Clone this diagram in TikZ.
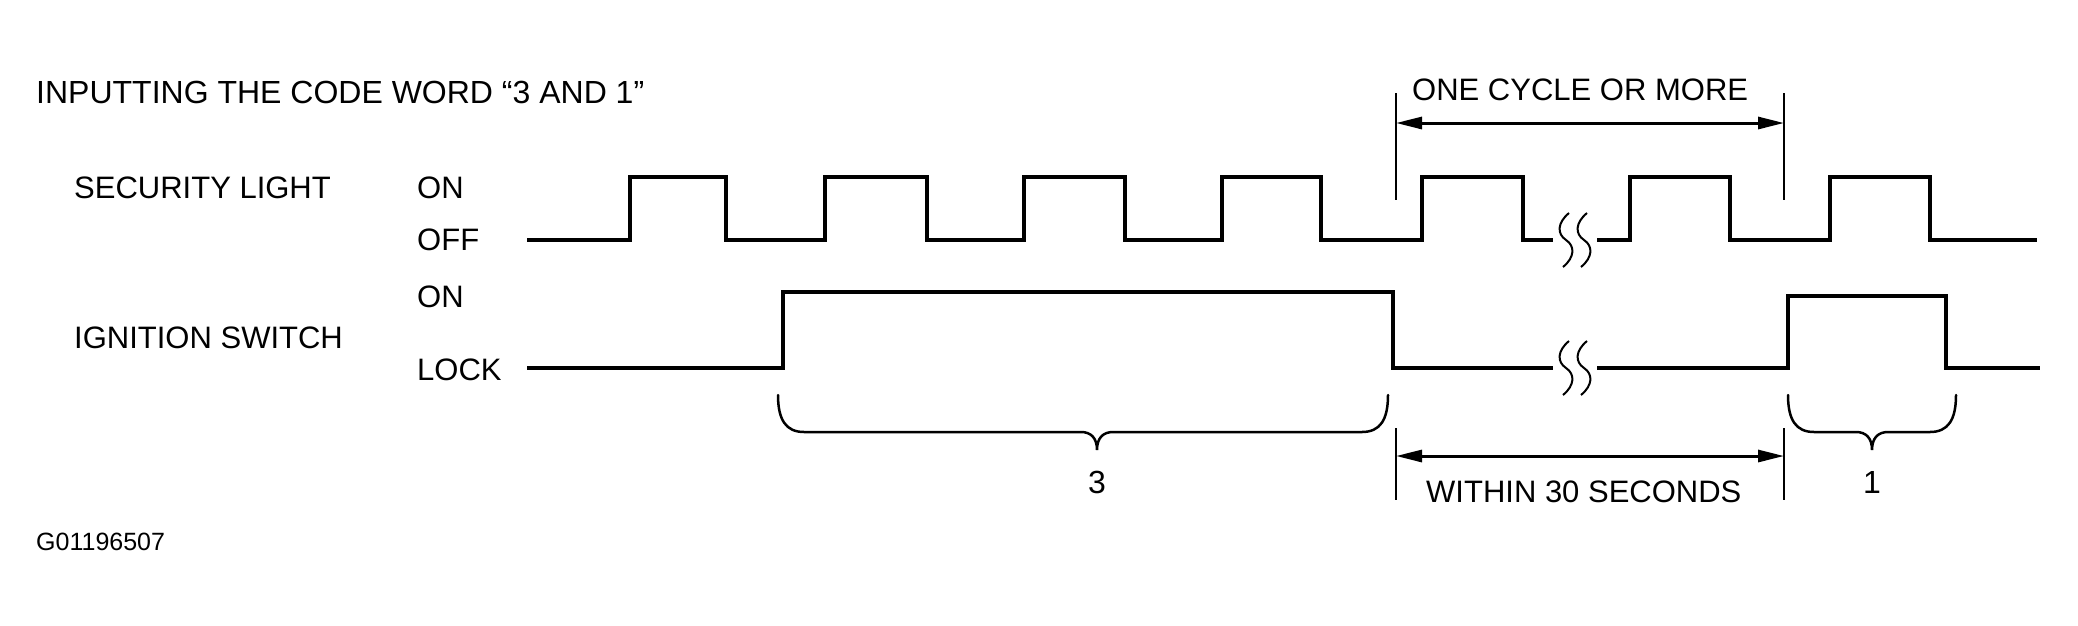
\documentclass[tikz,border=0pt]{standalone}
\usepackage{fontspec}
\setmainfont{Liberation Sans}
\usetikzlibrary{arrows.meta}

\begin{document}
\begin{tikzpicture}[x=1pt, y=-1pt,
  lbl/.style={anchor=base west, inner sep=0pt, font=\fontsize{31}{36}\selectfont},
  num/.style={anchor=base, inner sep=0pt, font=\fontsize{32}{38}\selectfont},
  wave/.style={line width=4.5pt, line join=miter},
  tick/.style={line width=2pt},
  brc/.style={line width=2.5pt, line cap=round},
  brk/.style={line width=2pt},
  dim/.style={line width=3pt, {Triangle[length=26pt,width=12pt]}-{Triangle[length=26pt,width=12pt]}}]
  \useasboundingbox (0,0) rectangle (2078,625);
  % texts
  \node[lbl, font=\fontsize{32}{38}\selectfont] (title) at (36,103) {INPUTTING THE CODE WORD “3 AND 1”};
  \node[lbl] (slight) at (74,198) {SECURITY LIGHT};
  \node[lbl] (slon) at (417,198) {ON};
  \node[lbl] (sloff) at (417,250) {OFF};
  \node[lbl] (ign) at (74,348) {IGNITION SWITCH};
  \node[lbl] (igon) at (417,307) {ON};
  \node[lbl] (iglock) at (417,380) {LOCK};
  \node[lbl] (cyctxt) at (1412,100) {ONE CYCLE OR MORE};
  \node[lbl] (sectxt) at (1426,502) {WITHIN 30 SECONDS};
  \node[lbl, font=\fontsize{25}{30}\selectfont] (code) at (36,550) {G01196507};
  % security light
  \draw[wave] (527,240) \foreach \r/\f in {630/726, 825/927, 1024/1125, 1222/1321, 1422/1523}{ -- (\r,240) -- (\r,177) -- (\f,177) -- (\f,240)} -- (1553,240);
  \draw[wave] (1597,240) \foreach \r/\f in {1630/1730, 1830/1930}{ -- (\r,240) -- (\r,177) -- (\f,177) -- (\f,240)} -- (2037,240);
  % ignition switch
  \draw[wave] (527,368) -- (783,368) -- (783,292) -- (1393,292) -- (1393,368) -- (1553,368);
  \draw[wave] (1597,368) -- (1788,368) -- (1788,296) -- (1946,296) -- (1946,368) -- (2040,368);
  % breaks
  \foreach \y in {240,368}
    \foreach \xc in {1566,1584}
      \draw[brk] (\xc+3,\y-27) .. controls (\xc-9,\y-17) and (\xc-9,\y-6) .. (\xc,\y) .. controls (\xc+9,\y+6) and (\xc+9,\y+17) .. (\xc-3,\y+27);
  % dimension lines
  \foreach \n/\yt/\yb/\ya in {cyc/93/200/123, sec/428/500/456}{
    \coordinate (\n-lt) at (1396,\yt); \coordinate (\n-lb) at (1396,\yb);
    \coordinate (\n-rt) at (1784,\yt); \coordinate (\n-rb) at (1784,\yb);
    \coordinate (\n-a) at (1396,\ya); \coordinate (\n-b) at (1784,\ya);
    \draw[tick] (\n-lt) -- (\n-lb);
    \draw[tick] (\n-rt) -- (\n-rb);
    \draw[dim] (\n-a) -- (\n-b);
  }
  % braces
  \foreach \n/\a/\b/\t/\lab in {three/778/1388/1097/3, one/1788/1956/1872/1}{
    \draw[brc] (\a,395) .. controls (\a,420) and (\a+8,432) .. (\a+26,432) -- (\t-16,432)
      .. controls (\t-6,432) and (\t,438) .. (\t,450) .. controls (\t,438) and (\t+6,432) .. (\t+16,432)
      -- (\b-26,432) .. controls (\b-8,432) and (\b,420) .. (\b,395);
    \node[num] (\n) at (\t,493) {\lab};
  }
\end{tikzpicture}
\end{document}
